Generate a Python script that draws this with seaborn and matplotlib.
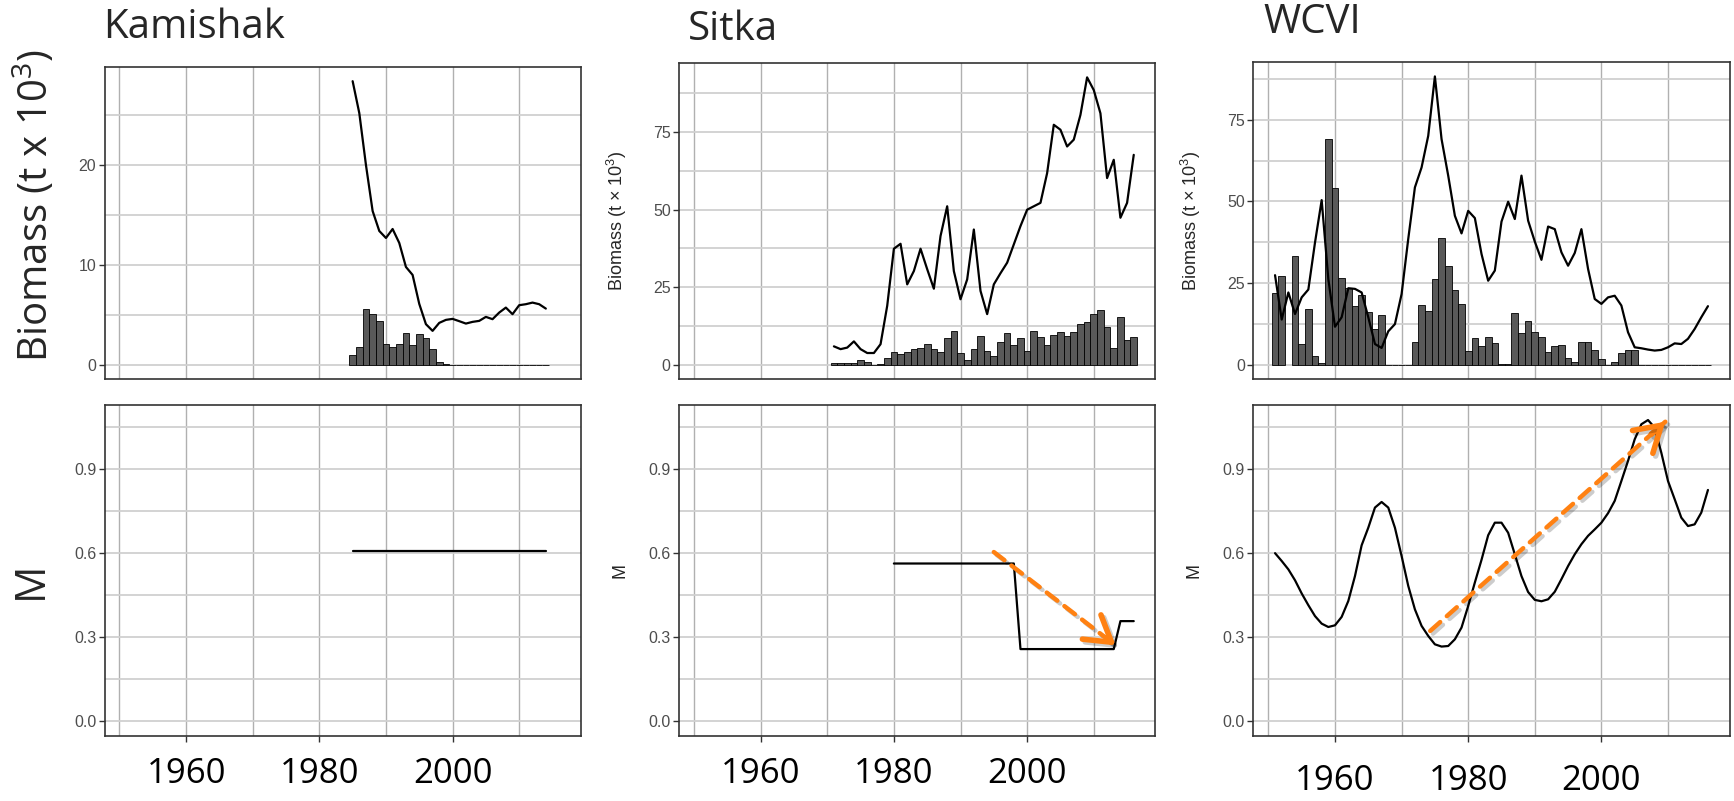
import numpy as np
import pandas as pd
import seaborn as sns
import matplotlib.pyplot as plt
import matplotlib.patheffects as pe
from matplotlib.ticker import MultipleLocator, FixedLocator

# values: biomass and catch in t x 10^3, M per year
kam_years = list(range(1985, 2015))
kam_biomass = [28.4, 25.2, 20.0, 15.4, 13.4, 12.7, 13.6, 12.2, 9.8, 9.0,
               6.1, 4.07, 3.4, 4.2, 4.5, 4.6, 4.37, 4.13, 4.3, 4.4,
               4.8, 4.57, 5.23, 5.73, 5.07, 5.97, 6.07, 6.23, 6.07, 5.63]
kam_catch = [1.03, 1.8, 5.57, 5.07, 4.37, 2.07, 1.83, 2.07, 3.23, 1.97,
             3.1, 2.73, 1.6, 0.33, 0.13, 0, 0, 0, 0, 0,
             0, 0, 0, 0, 0, 0, 0, 0, 0, 0]
kam_m_years = list(range(1985, 2015))
kam_m = [0.608, 0.608, 0.608, 0.608, 0.608, 0.608, 0.608, 0.608, 0.608, 0.608,
         0.608, 0.608, 0.608, 0.608, 0.608, 0.608, 0.608, 0.608, 0.608, 0.608,
         0.608, 0.608, 0.608, 0.608, 0.608, 0.608, 0.608, 0.608, 0.608, 0.608]

sit_years = list(range(1971, 2017))
sit_biomass = [5.9, 5.0, 5.5, 7.5, 5.0, 3.75, 3.75, 6.6, 19.0, 37.4,
               39.0, 25.9, 30.2, 37.4, 30.8, 24.5, 41.5, 51.1, 30.2, 21.1,
               27.5, 43.6, 23.8, 16.3, 25.9, 29.5, 32.9, 38.8, 44.7, 50.0,
               51.1, 52.2, 61.8, 77.4, 75.8, 70.4, 72.6, 80.6, 92.7, 88.6,
               81.1, 60.2, 66.1, 47.4, 52.2, 67.7]
sit_catch = [0.6, 0.4, 0.4, 0.6, 1.5, 0.7, 0.0, 0.2, 2.0, 4.1,
             3.3, 4.1, 5.0, 5.4, 6.8, 5.0, 4.0, 8.7, 11.0, 3.6,
             1.6, 4.9, 9.2, 4.5, 2.7, 7.4, 10.1, 6.2, 8.5, 4.3,
             10.9, 8.9, 6.3, 9.6, 10.4, 9.1, 10.6, 13.2, 13.6, 16.3,
             17.7, 12.0, 5.4, 15.5, 8.1, 9.0]
sit_m_years = list(range(1980, 2017))
sit_m = [0.563, 0.563, 0.563, 0.563, 0.563, 0.563, 0.563, 0.563, 0.563, 0.563,
         0.563, 0.563, 0.563, 0.563, 0.563, 0.563, 0.563, 0.563, 0.563,
         0.257, 0.257, 0.257, 0.257, 0.257, 0.257, 0.257, 0.257, 0.257, 0.257,
         0.257, 0.257, 0.257, 0.257, 0.257, 0.357, 0.357, 0.357]

wcvi_years = list(range(1951, 2017))
wcvi_biomass = [27.4, 13.8, 22.1, 15.5, 20.6, 23.0, 37.4, 50.4, 26.2, 11.6,
                14.5, 23.4, 23.2, 22.1, 14.5, 6.3, 5.1, 10.2, 12.4, 21.6,
                38.5, 54.3, 60.4, 70.1, 88.3, 69.1, 57.9, 45.6, 40.2, 47.1,
                44.9, 33.9, 25.7, 28.8, 43.8, 49.9, 44.6, 57.9, 44.1, 37.7,
                32.1, 42.3, 41.5, 34.4, 30.3, 34.2, 41.5, 29.3, 20.1, 18.6,
                20.6, 21.1, 18.1, 9.9, 5.3, 5.0, 4.6, 4.3, 4.5, 5.3,
                6.5, 6.3, 7.9, 10.9, 14.5, 17.9]
wcvi_catch = [21.8, 27.0, np.nan, 33.2, 6.2, 17.0, 2.7, 0.6, 69.2, 54.0,
              26.4, 23.6, 18.1, 21.2, 16.1, 10.8, 15.3, 0, 0, 0,
              0, 7.0, 18.3, 16.4, 26.1, 38.9, 30.1, 22.8, 18.7, 4.2,
              8.1, 5.6, 8.6, 6.6, 0.2, 0.2, 15.9, 9.7, 13.3, 9.9,
              8.6, 3.8, 5.6, 6.0, 1.9, 0.8, 6.8, 7.0, 4.4, 1.7,
              0, 0.8, 3.6, 4.5, 4.5, 0, 0, 0, 0, 0,
              0, 0, 0, 0, 0, 0]
wcvi_m_years = list(range(1951, 2017))
wcvi_m = [0.600, 0.572, 0.542, 0.503, 0.456, 0.414, 0.375, 0.348, 0.336, 0.342,
          0.372, 0.429, 0.518, 0.628, 0.691, 0.763, 0.783, 0.763, 0.691, 0.590,
          0.483, 0.399, 0.340, 0.304, 0.274, 0.266, 0.268, 0.292, 0.334, 0.411,
          0.495, 0.576, 0.664, 0.709, 0.709, 0.673, 0.596, 0.518, 0.461, 0.433,
          0.428, 0.435, 0.462, 0.507, 0.554, 0.596, 0.632, 0.662, 0.685, 0.709,
          0.743, 0.787, 0.858, 0.930, 1.007, 1.061, 1.076, 1.049, 0.959, 0.858,
          0.793, 0.727, 0.697, 0.703, 0.745, 0.826]

# trend arrows drawn on the M panels (start, end)
sit_arrow = [(1995.0, 0.604), (2013.3, 0.27)]
wcvi_arrow = [(1974.3, 0.322), (2009.6, 1.07)]

m_max = max(wcvi_m + sit_m + kam_m)

sns.set_style('white')
plt.rcParams['font.family'] = ['Liberation Sans', 'DejaVu Sans']
plt.rcParams['mathtext.default'] = 'regular'

W, H = 1734, 801
fig = plt.figure(figsize=(W / 100, H / 100), dpi=100)


def px_axes(x0, y0, x1, y1):
    return fig.add_axes([x0 / W, 1 - y1 / H, (x1 - x0) / W, (y1 - y0) / H])


ORANGE = '#FF8112'
TICK_GREY = '#4D4D4D'
BIG = 'Open Sans'


def style_axes(ax, ymax, ystep, fmt, bottom, big_pad=11):
    ax.set_xlim(1947.75, 2019.25)
    ax.set_ylim(-0.05 * ymax, 1.05 * ymax)
    ax.xaxis.set_major_locator(FixedLocator([1960, 1980, 2000]))
    ax.xaxis.set_minor_locator(FixedLocator([1950, 1970, 1990, 2010]))
    ax.yaxis.set_major_locator(MultipleLocator(ystep))
    ax.yaxis.set_minor_locator(MultipleLocator(ystep / 2))
    ax.set_axisbelow(True)
    ax.grid(True, which='both', axis='x', color='#B0B0B0', lw=1.0)
    ax.grid(True, which='both', axis='y', color='#D0D0D0', lw=1.3)
    for s in ax.spines.values():
        s.set_visible(True)
        s.set_color('#333333')
        s.set_linewidth(1.2)
    ax.tick_params(axis='y', which='major', length=4, width=1, color='#333333',
                   labelsize=11.5, labelcolor=TICK_GREY, pad=2, left=True)
    ax.tick_params(axis='both', which='minor', length=0)
    ax.yaxis.set_major_formatter(fmt)
    ax.set_xlabel('')
    ax.set_ylabel('')
    if bottom:
        ax.tick_params(axis='x', which='major', length=4, width=1, color='#333333',
                       labelsize=25, labelcolor='black', pad=big_pad, bottom=True)
        for lab in ax.get_xticklabels():
            lab.set_fontfamily(BIG)
    else:
        ax.tick_params(axis='x', which='major', length=0, labelbottom=False)


def draw_arrow(ax, start, end):
    shadow = [pe.SimpleLineShadow(offset=(2, -2), alpha=0.2), pe.Normal()]
    ann = ax.annotate('', xy=end, xytext=start,
                      arrowprops=dict(arrowstyle='-', color=ORANGE, lw=3.2,
                                      linestyle=(0, (3, 2)), shrinkA=0, shrinkB=0))
    ann.arrow_patch.set_path_effects(shadow)
    head_from = (end[0] - 0.06 * (end[0] - start[0]), end[1] - 0.06 * (end[1] - start[1]))
    head = ax.annotate('', xy=end, xytext=head_from,
                       arrowprops=dict(arrowstyle='->,head_length=0.9,head_width=0.55',
                                       color=ORANGE, lw=4.0, mutation_scale=20,
                                       shrinkA=0, shrinkB=0))
    head.arrow_patch.set_path_effects(shadow)


panels = [
    (kam_years, kam_biomass, kam_catch, kam_m_years, kam_m, None,
     (104.5, 67, 580.8, 379), (104.5, 405, 580.8, 736), 10, 11),
    (sit_years, sit_biomass, sit_catch, sit_m_years, sit_m, sit_arrow,
     (679, 63, 1155.4, 379), (679, 405, 1155.4, 736), 25, 11),
    (wcvi_years, wcvi_biomass, wcvi_catch, wcvi_m_years, wcvi_m, wcvi_arrow,
     (1253.4, 62, 1729.6, 379), (1253.4, 405, 1729.6, 736), 25, 16),
]

for i, (yrs, bio, cat, myrs, m, arrow, top_box, bot_box, ystep, pad) in enumerate(panels):
    ax_t = px_axes(*top_box)
    ax_b = px_axes(*bot_box)

    df = pd.DataFrame({'year': yrs, 'biomass': bio, 'catch': cat})
    bars = df.dropna(subset=['catch'])
    sns.barplot(data=bars, x='year', y='catch', native_scale=True, width=1,
                color='#595959', saturation=1, edgecolor='black', linewidth=0.6,
                errorbar=None, ax=ax_t)
    sns.lineplot(data=df, x='year', y='biomass', color='black', linewidth=1.6, ax=ax_t)
    style_axes(ax_t, max(bio), ystep, '{x:g}', bottom=False)

    sns.lineplot(x=myrs, y=m, color='black', linewidth=1.6, ax=ax_b)
    style_axes(ax_b, m_max, 0.3, '{x:.1f}', bottom=True, big_pad=pad)
    if arrow is not None:
        draw_arrow(ax_b, arrow[0], arrow[1])

    if i > 0:
        ax_t.set_ylabel(r'Biomass (t × 10$^{3}$)', fontsize=13)
        ax_t.yaxis.set_label_coords(-0.106, 0.5)
        ax_b.set_ylabel('M', fontsize=13)
        ax_b.yaxis.set_label_coords(-0.106, 0.5)

# stock titles and the large left-hand labels
fig.text(103 / W, 1 - 38 / H, 'Kamishak', family=BIG, fontsize=29, va='baseline')
fig.text(688 / W, 1 - 40 / H, 'Sitka', family=BIG, fontsize=29, va='baseline')
fig.text(1263 / W, 1 - 33 / H, 'WCVI', family=BIG, fontsize=29, va='baseline')
fig.text(35 / W, 1 - 206 / H, r'Biomass (t x 10$^{3}$)', family=BIG, fontsize=29,
         rotation=90, ha='center', va='center')
fig.text(31 / W, 1 - 580 / H, 'M', family=BIG, fontsize=30,
         rotation=90, ha='center', va='center')

fig.savefig('out.png', dpi=100)
